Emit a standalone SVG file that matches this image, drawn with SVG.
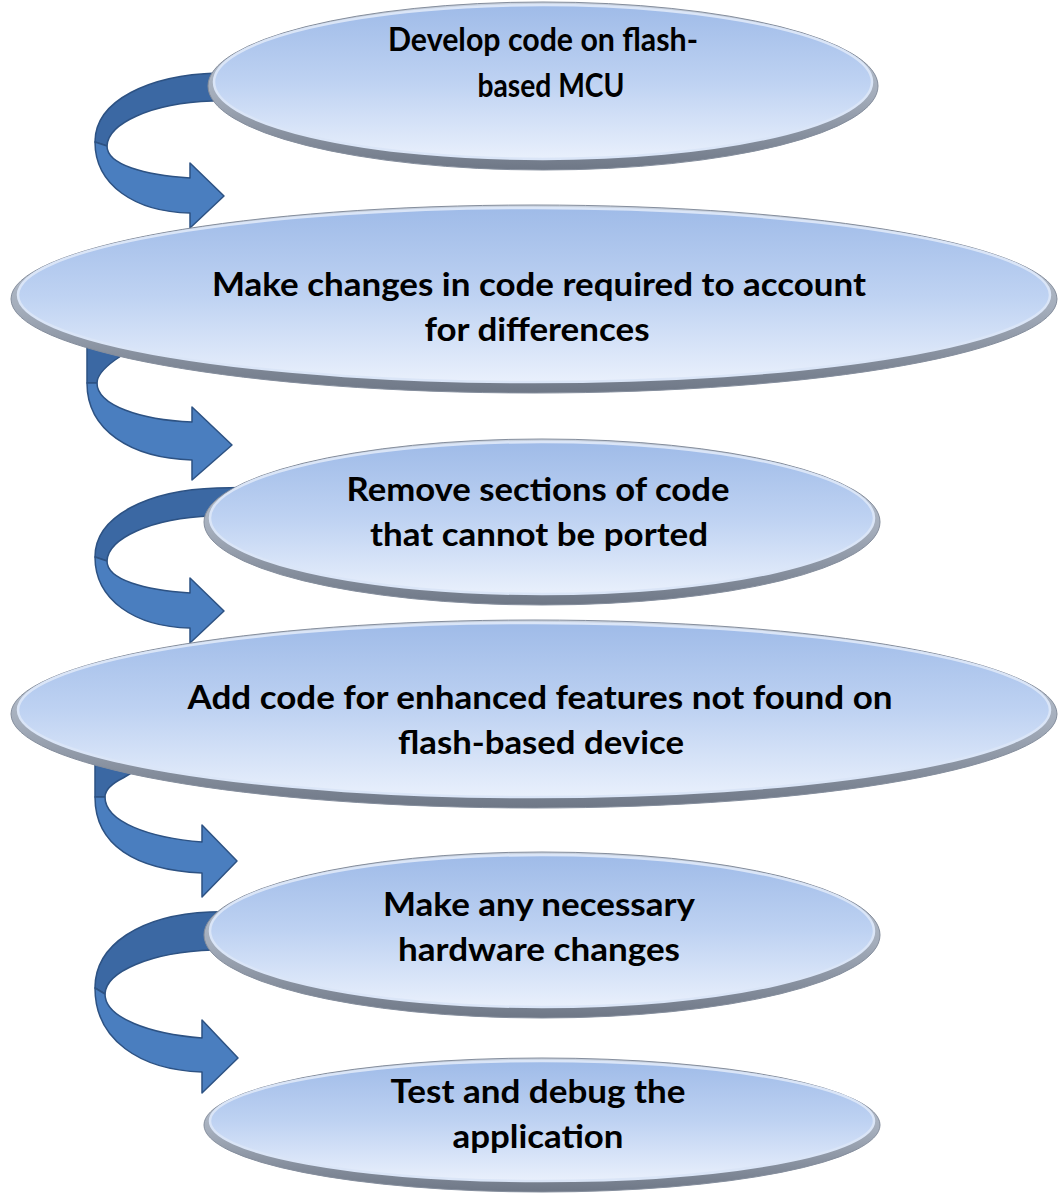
<svg xmlns="http://www.w3.org/2000/svg" width="1059" height="1194" viewBox="0 0 1059 1194">
<defs>
<linearGradient id="face" x1="0" y1="0" x2="0" y2="1">
<stop offset="0" stop-color="#9fbbe8"/>
<stop offset="0.5" stop-color="#bed2f2"/>
<stop offset="1" stop-color="#e9f0fc"/>
</linearGradient>
<linearGradient id="rim" x1="0" y1="0" x2="0" y2="1">
<stop offset="0" stop-color="#c8d1de"/>
<stop offset="0.55" stop-color="#a4adbb"/>
<stop offset="1" stop-color="#6e7786"/>
</linearGradient>
</defs>
<style>
.rim{fill:url(#rim);stroke:#858e9d;stroke-width:1}
.face{fill:url(#face);stroke:#dae5f7;stroke-width:2.5}
.lbl{font-family:Lato,"Open Sans","Liberation Sans",sans-serif;font-weight:700;font-size:33px;fill:#000;text-anchor:middle}
.dk{fill:#3b68a3;stroke:#2d5283;stroke-width:1.5;stroke-linejoin:round}
.lt{fill:#4a7ebf;stroke:#2d5283;stroke-width:1.5;stroke-linejoin:round}
</style>
<g id="connectors">
<g id="a1">
<path class="dk" d="M 262,72 L 217,73 C 150,75 95,100 95,142 L 107,146 C 108,124 150,103 212,101 L 262,101 Z"/>
<path class="lt" d="M 95,142 C 95,185 135,212 190,213 L 190,228 L 224,196 L 190,163 L 190,178 C 145,175 107,165 107,146 Z"/>
</g>
<g id="a2">
<path class="dk" d="M 87,383 L 87,330 L 160,330 L 115,360 C 104,368 97,376 97,383 Z"/>
<path class="lt" d="M 87,383 C 87,430 130,458 192,460 L 192,480 L 232,445 L 192,407 L 192,422 C 140,420 97,405 97,383 Z"/>
</g>
<g id="a3" transform="translate(0,415)">
<path class="dk" d="M 262,72 L 217,73 C 150,75 95,100 95,142 L 107,146 C 108,124 150,103 212,101 L 262,101 Z"/>
<path class="lt" d="M 95,142 C 95,185 135,212 190,213 L 190,228 L 224,196 L 190,163 L 190,178 C 145,175 107,165 107,146 Z"/>
</g>
<g id="a4">
<path class="dk" d="M 95,797 L 95,750 L 170,750 L 123,778 C 111,784 105,790 105,797 Z"/>
<path class="lt" d="M 95,797 C 95,845 135,870 202,873 L 202,897 L 237,861 L 202,825 L 202,842 C 150,838 105,822 105,797 Z"/>
</g>
<g id="a5">
<path class="dk" d="M 262,911 L 210,912 C 140,915 95,945 95,988 L 105,994 C 106,972 150,952 213,950 L 262,950 Z"/>
<path class="lt" d="M 95,988 C 95,1040 140,1070 202,1072 L 202,1093 L 238,1058 L 202,1020 L 202,1038 C 150,1034 105,1018 105,994 Z"/>
</g>
</g>
<g id="n1">
<ellipse class="rim" cx="543" cy="86" rx="335" ry="84"/>
<ellipse class="face" cx="543" cy="82" rx="329" ry="77"/>
<text class="lbl" x="543" y="51" textLength="310" lengthAdjust="spacingAndGlyphs">Develop code on flash-</text>
<text class="lbl" x="551" y="97" textLength="147" lengthAdjust="spacingAndGlyphs">based MCU</text>
</g>
<g id="n2">
<ellipse class="rim" cx="534" cy="299" rx="523" ry="94"/>
<ellipse class="face" cx="534" cy="295" rx="516" ry="87"/>
<text class="lbl" x="539" y="296" textLength="654" lengthAdjust="spacingAndGlyphs">Make changes in code required to account</text>
<text class="lbl" x="537" y="341" textLength="225" lengthAdjust="spacingAndGlyphs">for differences</text>
</g>
<g id="n3">
<ellipse class="rim" cx="542" cy="522" rx="338" ry="83"/>
<ellipse class="face" cx="542" cy="518" rx="332" ry="76"/>
<text class="lbl" x="538" y="501" textLength="383" lengthAdjust="spacingAndGlyphs">Remove sections of code</text>
<text class="lbl" x="539" y="546" textLength="338" lengthAdjust="spacingAndGlyphs">that cannot be ported</text>
</g>
<g id="n4">
<ellipse class="rim" cx="534" cy="714" rx="523" ry="94"/>
<ellipse class="face" cx="534" cy="710" rx="516" ry="87"/>
<text class="lbl" x="540" y="709" textLength="705" lengthAdjust="spacingAndGlyphs">Add code for enhanced features not found on</text>
<text class="lbl" x="541" y="754" textLength="286" lengthAdjust="spacingAndGlyphs">flash-based device</text>
</g>
<g id="n5">
<ellipse class="rim" cx="542" cy="935" rx="338" ry="83"/>
<ellipse class="face" cx="542" cy="931" rx="332" ry="76"/>
<text class="lbl" x="539" y="916" textLength="312" lengthAdjust="spacingAndGlyphs">Make any necessary</text>
<text class="lbl" x="539" y="961" textLength="282" lengthAdjust="spacingAndGlyphs">hardware changes</text>
</g>
<g id="n6">
<ellipse class="rim" cx="542" cy="1125" rx="338" ry="67"/>
<ellipse class="face" cx="542" cy="1121" rx="332" ry="60"/>
<text class="lbl" x="538" y="1103" textLength="295" lengthAdjust="spacingAndGlyphs">Test and debug the</text>
<text class="lbl" x="538" y="1148" textLength="171" lengthAdjust="spacingAndGlyphs">application</text>
</g>
</svg>
